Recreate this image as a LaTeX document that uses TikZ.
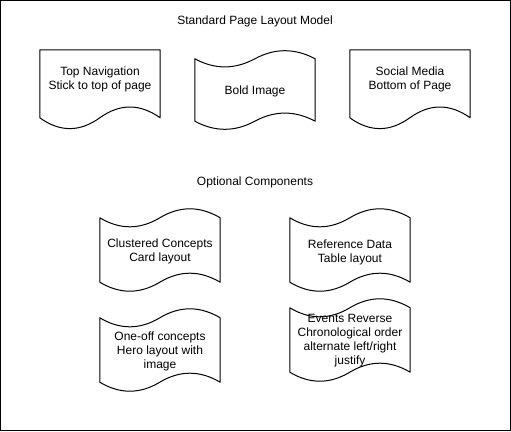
\documentclass[tikz,border=0pt]{standalone}
\usepackage{fontspec}
\setmainfont{Liberation Sans}
\usetikzlibrary{calc}

\tikzset{
  pagebox/.style={minimum width=120pt, minimum height=#1, inner sep=0pt},
  pagebox/.default=80pt,
  outline/.style={draw=black, line width=1pt, line join=round},
  caption/.style={font=\fontsize{12}{14}\selectfont, align=center, text=black, inner sep=0pt}
}

% document shape: flat top, wavy bottom
\newcommand{\docshape}[1]{%
  \draw[outline] (#1.north west) -- (#1.north east)
    -- ($(#1.north east)+(0,68)$)
    .. controls ($(#1.north west)+(100,53.6)$) and ($(#1.north west)+(80,53.6)$) .. ($(#1.north west)+(60,68)$)
    .. controls ($(#1.north west)+(40,82.4)$) and ($(#1.north west)+(20,82.4)$) .. ($(#1.north west)+(0,68)$)
    -- cycle;}

% tape shape: wavy top and bottom, #2 = wave size
\newcommand{\tapeshape}[2]{%
  \draw[outline] ($(#1.north west)+(0,{0.5*#2})$)
    .. controls ($(#1.north west)+(20,{1.1*#2})$) and ($(#1.north west)+(40,{1.1*#2})$) .. ($(#1.north west)+(60,{0.5*#2})$)
    .. controls ($(#1.north west)+(80,{-0.1*#2})$) and ($(#1.north west)+(100,{-0.1*#2})$) .. ($(#1.north east)+(0,{0.5*#2})$)
    -- ($(#1.south east)+(0,{-0.5*#2})$)
    .. controls ($(#1.south west)+(100,{-1.1*#2})$) and ($(#1.south west)+(80,{-1.1*#2})$) .. ($(#1.south west)+(60,{-0.5*#2})$)
    .. controls ($(#1.south west)+(40,{0.1*#2})$) and ($(#1.south west)+(20,{0.1*#2})$) .. ($(#1.south west)+(0,{-0.5*#2})$)
    -- cycle;}

\begin{document}
\begin{tikzpicture}[x=1pt,y=-1pt]
  \useasboundingbox (0,0) rectangle (511,431);
  \draw[line width=1pt] (0.5,0.5) rectangle (510.5,430.5);

  \node[caption] (title) at (255,21) {Standard Page Layout Model};

  % standard components
  \node[pagebox] (topnav) at (100,90) {};
  \docshape{topnav}
  \node[caption] (topnavtext) at (100,79) {Top Navigation\\Stick to top of page};

  \node[pagebox] (boldimg) at (255,90) {};
  \tapeshape{boldimg}{18}
  \node[caption] (boldimgtext) at (255,91) {Bold Image};

  \node[pagebox] (social) at (410,90) {};
  \docshape{social}
  \node[caption] (socialtext) at (410,79) {Social Media\\Bottom of Page};

  \node[caption] (optional) at (255,182) {Optional Components};

  % optional components
  \node[pagebox=84pt] (clustered) at (160,250) {};
  \tapeshape{clustered}{20}
  \node[caption] (clusteredtext) at (160,251) {Clustered Concepts\\Card layout};

  \node[pagebox=84pt] (refdata) at (350,250) {};
  \tapeshape{refdata}{20}
  \node[caption] (refdatatext) at (350,252) {Reference Data\\Table layout};

  \node[pagebox=84pt] (oneoff) at (160,350) {};
  \tapeshape{oneoff}{20}
  \node[caption] (oneofftext) at (160,351) {One-off concepts\\Hero layout with\\image};

  \node[pagebox=84pt] (events) at (350,340) {};
  \tapeshape{events}{20}
  \node[caption] (eventstext) at (350,341) {Events Reverse\\Chronological order\\alternate left/right\\justify};
\end{tikzpicture}
\end{document}
